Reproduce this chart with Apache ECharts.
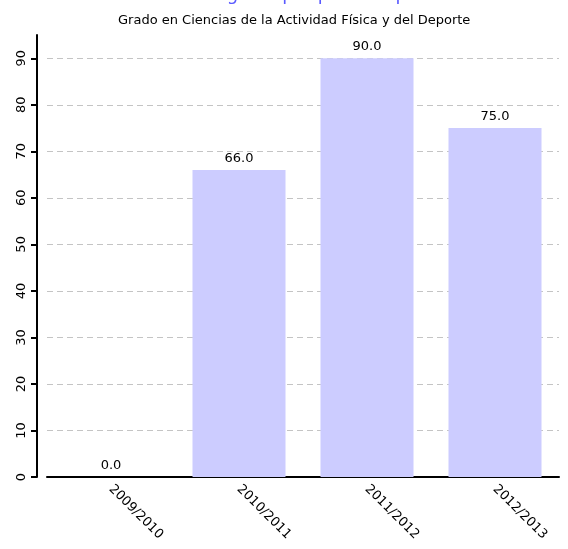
<!DOCTYPE html>
<html>
<head>
<meta charset="utf-8">
<script src="https://cdn.jsdelivr.net/npm/echarts@6/dist/echarts.min.js"></script>
<style>
html,body{margin:0;padding:0;background:#fff;}
#c{width:568px;height:549px;}
</style>
</head>
<body>
<div id="c"></div>
<script>
const titleText = "Alumnos de nuevo ingreso por preinscripción";
const subtitleText = "Grado en Ciencias de la Actividad Física y del Deporte";
const categories = ["2009/2010", "2010/2011", "2011/2012", "2012/2013"];
const values = [0, 66, 90, 75];
const yTicks = [0, 10, 20, 30, 40, 50, 60, 70, 80, 90];

const font = "DejaVu Sans";
const chart = echarts.init(document.getElementById('c'), null, {renderer: 'canvas'});
chart.setOption({
  animation: false,
  backgroundColor: '#fff',
  title: [
    {text: titleText, left: 32, top: -19,
     textStyle: {fontFamily: font, fontSize: 18, fontWeight: 'normal', color: '#5a5aff'}},
    {text: subtitleText, left: 113, top: 9,
     textStyle: {fontFamily: font, fontSize: 13, fontWeight: 'normal', color: '#000'}}
  ],
  grid: {left: 47, right: 9, top: 35, bottom: 72, containLabel: false},
  xAxis: {
    type: 'category',
    data: categories,
    boundaryGap: true,
    axisLine: {show: true, lineStyle: {color: '#000', width: 2}},
    axisTick: {show: false},
    axisLabel: {rotate: -45, color: '#000', fontFamily: font, fontSize: 13, margin: 10, interval: 0},
    splitLine: {show: false}
  },
  yAxis: {
    type: 'value',
    min: 0, max: 95, interval: 10,
    offset: 10,
    axisLine: {show: true, lineStyle: {color: '#000', width: 2}},
    axisTick: {show: true, length: 6, inside: false, customValues: yTicks, lineStyle: {color: '#000', width: 2}},
    axisLabel: {rotate: 90, color: '#000', fontFamily: font, fontSize: 13, margin: 9, customValues: yTicks},
    splitLine: {show: true, customValues: yTicks, lineStyle: {color: '#c4c4c4', type: [6, 4], width: 1}}
  },
  series: [{
    type: 'bar',
    data: values,
    barWidth: 93,
    itemStyle: {color: '#ccccff'},
    label: {show: true, position: 'top', distance: 5, color: '#000', fontFamily: font, fontSize: 13,
            formatter: p => Number(p.value).toFixed(1)}
  }]
});
</script>
</body>
</html>
